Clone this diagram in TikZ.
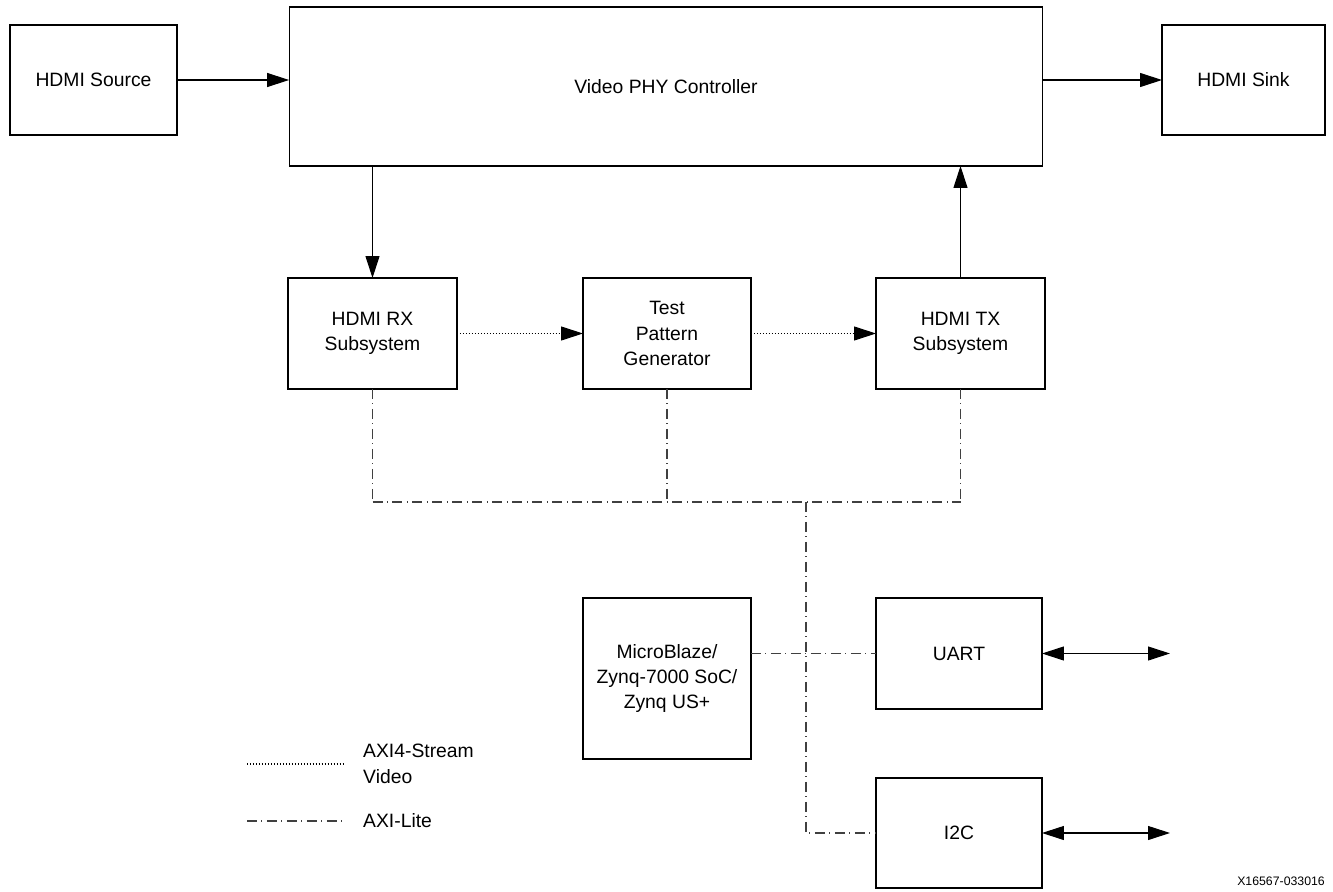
\documentclass[tikz,border=0pt]{standalone}
\usepackage{fontspec}
\setmainfont{Liberation Sans}
\usetikzlibrary{arrows.meta}

\begin{document}
\begin{tikzpicture}[x=0.02cm, y=-0.02cm,
        every node/.style={font=\fontsize{11}{14.5}\selectfont},
        block/.style 2 args={rectangle, draw, line width=0.6pt, inner sep=0pt, outer sep=0pt, align=center, minimum width=#1, minimum height=#2},
        msg/.style={-{Triangle[length=0.44cm, width=0.28cm]}, line width=0.6pt},
        vmsg/.style={msg, dash pattern=on 0.7pt off 1pt},
        bmsg/.style={{Triangle[length=0.44cm, width=0.28cm]}-{Triangle[length=0.44cm, width=0.28cm]}, line width=0.6pt},
        axil/.style={line width=0.6pt, black!75, dash pattern=on 0.2cm off 0.09cm on 0.02cm off 0.09cm}
    ]
    \useasboundingbox (0,0) rectangle (1333,892);
%
    % Blocks
    \node[block={3.34cm}{2.2cm}] (src) at (93.5, 80) {HDMI Source};
    \node[block={15.08cm}{3.18cm}] (phy) at (666, 86.5) {Video PHY Controller};
    \node[block={3.26cm}{2.2cm}] (sink) at (1243.5, 80) {HDMI Sink};
    \node[block={3.38cm}{2.22cm}] (rx) at (372.5, 333.5) {HDMI RX\\Subsystem};
    \node[block={3.36cm}{2.22cm}] (tpg) at (667, 333.5) {Test\\Pattern\\Generator};
    \node[block={3.38cm}{2.22cm}] (tx) at (960.5, 333.5) {HDMI TX\\Subsystem};
    \node[block={3.36cm}{3.22cm}] (mb) at (667, 678.5) {MicroBlaze/\\Zynq-7000 SoC/\\Zynq US+};
    \node[block={3.32cm}{2.22cm}] (uart) at (959, 653.5) {UART};
    \node[block={3.32cm}{2.2cm}] (i2c) at (959, 833) {I2C};
%
    % Free ends
    \coordinate (bus) at (806, 502);
    \coordinate (uartio) at (1170, 653.5);
    \coordinate (i2cio) at (1170, 833);
%
    % Video path
    \draw[msg] (src.east) -- (src.east -| phy.west);
    \draw[msg] (phy.east |- sink.west) -- (sink.west);
    \draw[msg] (phy.south -| rx.north) -- (rx.north);
    \draw[msg] (tx.north) -- (phy.south -| tx.north);
    \draw[vmsg] (rx.east) -- (tpg.west);
    \draw[vmsg] (tpg.east) -- (tx.west);
%
    % AXI-Lite bus
    \foreach \x in {rx, tpg, tx} {
        \draw[axil] (\x.south) -- (\x.south |- bus);
    }
    \draw[axil] (rx.south |- bus) -- (tx.south |- bus);
    \draw[axil] (bus) |- (i2c.west);
    \draw[axil] (mb.east |- uart.west) -- (uart.west);
%
    % External I/O
    \draw[bmsg] (uart.east) -- (uartio);
    \draw[bmsg] (i2c.east) -- (i2cio);
%
    % Legend
    \coordinate (lva) at (247, 764);
    \coordinate (lvb) at (345, 764);
    \coordinate (lla) at (247, 821);
    \coordinate (llb) at (345, 821);
    \draw[line width=0.6pt, dash pattern=on 0.7pt off 1pt] (lva) -- (lvb);
    \draw[axil] (lla) -- (llb);
    \node[anchor=west, align=left] (lvid) at (357, 764) {AXI4-Stream\\Video};
    \node[anchor=west] (llite) at (357, 821) {AXI-Lite};
%
    \node[anchor=east, font=\fontsize{7}{8}\selectfont] (fig) at (1331, 881) {X16567-033016};
%
\end{tikzpicture}
\end{document}
